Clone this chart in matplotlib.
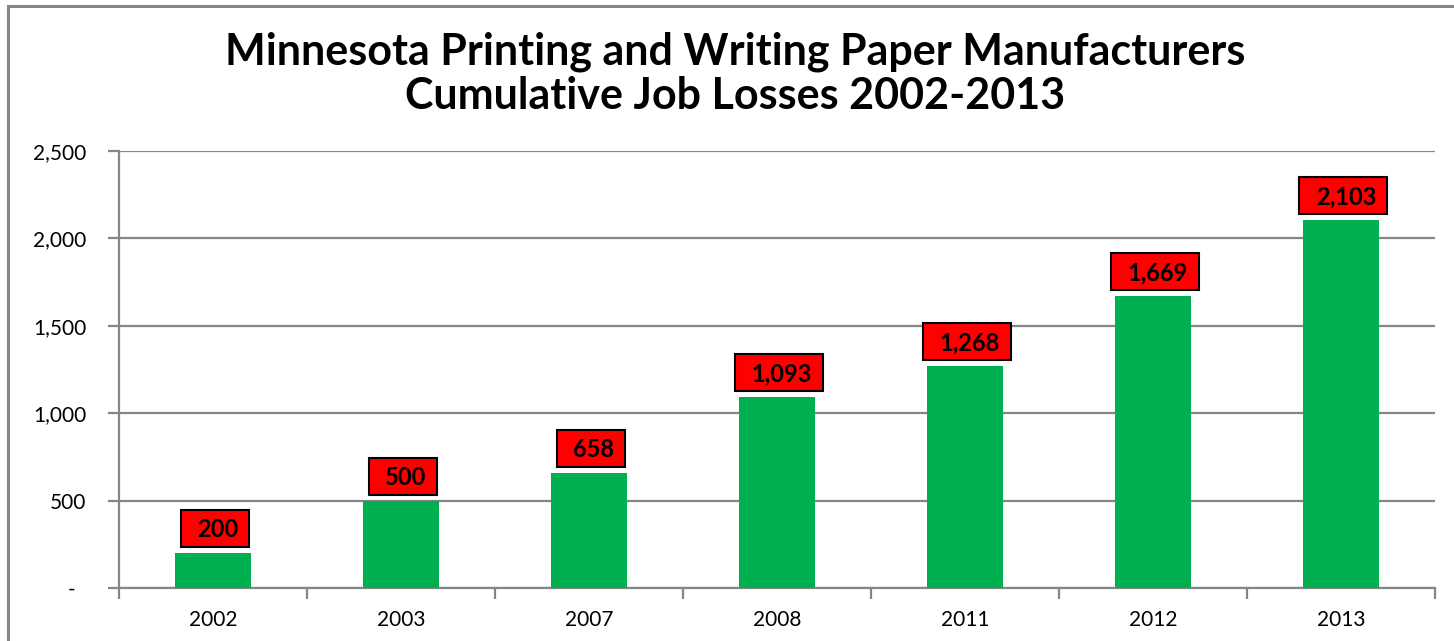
import matplotlib
matplotlib.use("Agg")
import matplotlib.pyplot as plt
from matplotlib.patches import Rectangle
from matplotlib.ticker import FixedLocator, FixedFormatter

years = ["2002", "2003", "2007", "2008", "2011", "2012", "2013"]
job_losses = [200, 500, 658, 1093, 1268, 1669, 2103]
y_ticks = [0, 500, 1000, 1500, 2000, 2500]
y_tick_labels = ["-  ", "500", "1,000", "1,500", "2,000", "2,500"]

plt.rcParams["font.family"] = ["Lato", "DejaVu Sans"]

W, H, DPI = 1454, 641, 100
fig = plt.figure(figsize=(W / DPI, H / DPI), dpi=DPI)

# chart-area frame (left and top edges visible)
fig.add_artist(Rectangle((8 / W, -0.1), 1.2, 1 - 6 / H + 0.1,
                         transform=fig.transFigure, fill=False,
                         edgecolor="#868686", linewidth=2.2, zorder=0))

ax = fig.add_axes([119 / W, 53 / H, (1435 - 119) / W, (588 - 151) / H])

grid_c = "#868686"
x = list(range(len(years)))
ax.bar(x, job_losses, width=0.4, color="#00B050", zorder=3)

ax.set_xlim(-0.5, len(years) - 0.5)
ax.set_ylim(0, 2500)

ax.yaxis.set_major_locator(FixedLocator(y_ticks))
ax.yaxis.set_major_formatter(FixedFormatter(y_tick_labels))
ax.grid(axis="y", color=grid_c, linewidth=1.6, zorder=0)

ax.set_xticks([i - 0.5 for i in range(len(years) + 1)])
ax.set_xticklabels([""] * (len(years) + 1))
ax.set_xticks(x, minor=True)
ax.set_xticklabels(years, minor=True)

ax.tick_params(axis="y", length=8, width=1.6, color=grid_c, pad=15.5,
               labelsize=15, labelcolor="black")
ax.tick_params(axis="x", which="major", length=8, width=1.6, color=grid_c)
ax.tick_params(axis="x", which="minor", length=0, pad=16,
               labelsize=15, labelcolor="black")

for s in ["top", "right"]:
    ax.spines[s].set_visible(False)
for s in ["left", "bottom"]:
    ax.spines[s].set_color(grid_c)
    ax.spines[s].set_linewidth(1.6)

fig.text(735 / W, 1 - 74 / H,
         "Minnesota Printing and Writing Paper Manufacturers\nCumulative Job Losses 2002-2013",
         ha="center", va="center", fontsize=31, fontweight="bold",
         linespacing=1.12)

# value labels in red boxes above each bar
fig.canvas.draw()
renderer = fig.canvas.get_renderer()
inv = ax.transData.inverted()
label_pt = 17
cap_px = 0.72 * label_pt * DPI / 72
box_gap, box_h = 6, 37
for xi, v in zip(x, job_losses):
    label = f"{v:,}"
    t = ax.annotate(label, (xi, v),
                    xytext=(5, box_gap + (box_h - cap_px) / 2),
                    textcoords="offset pixels",
                    ha="center", va="baseline", fontsize=label_pt,
                    fontweight="bold", color="black", zorder=6,
                    annotation_clip=False)
    bb = t.get_window_extent(renderer)
    px0, py0 = ax.transData.transform((xi, v))
    box_w = bb.width + 27
    cx = px0 + 2
    (bx0, by0) = inv.transform((cx - box_w / 2, py0 + box_gap))
    (bx1, by1) = inv.transform((cx + box_w / 2, py0 + box_gap + box_h))
    ax.add_patch(Rectangle((bx0, by0), bx1 - bx0, by1 - by0,
                           facecolor="#FF0000", edgecolor="black",
                           linewidth=1.5, zorder=5, clip_on=False))

fig.savefig("out.png", dpi=DPI)
